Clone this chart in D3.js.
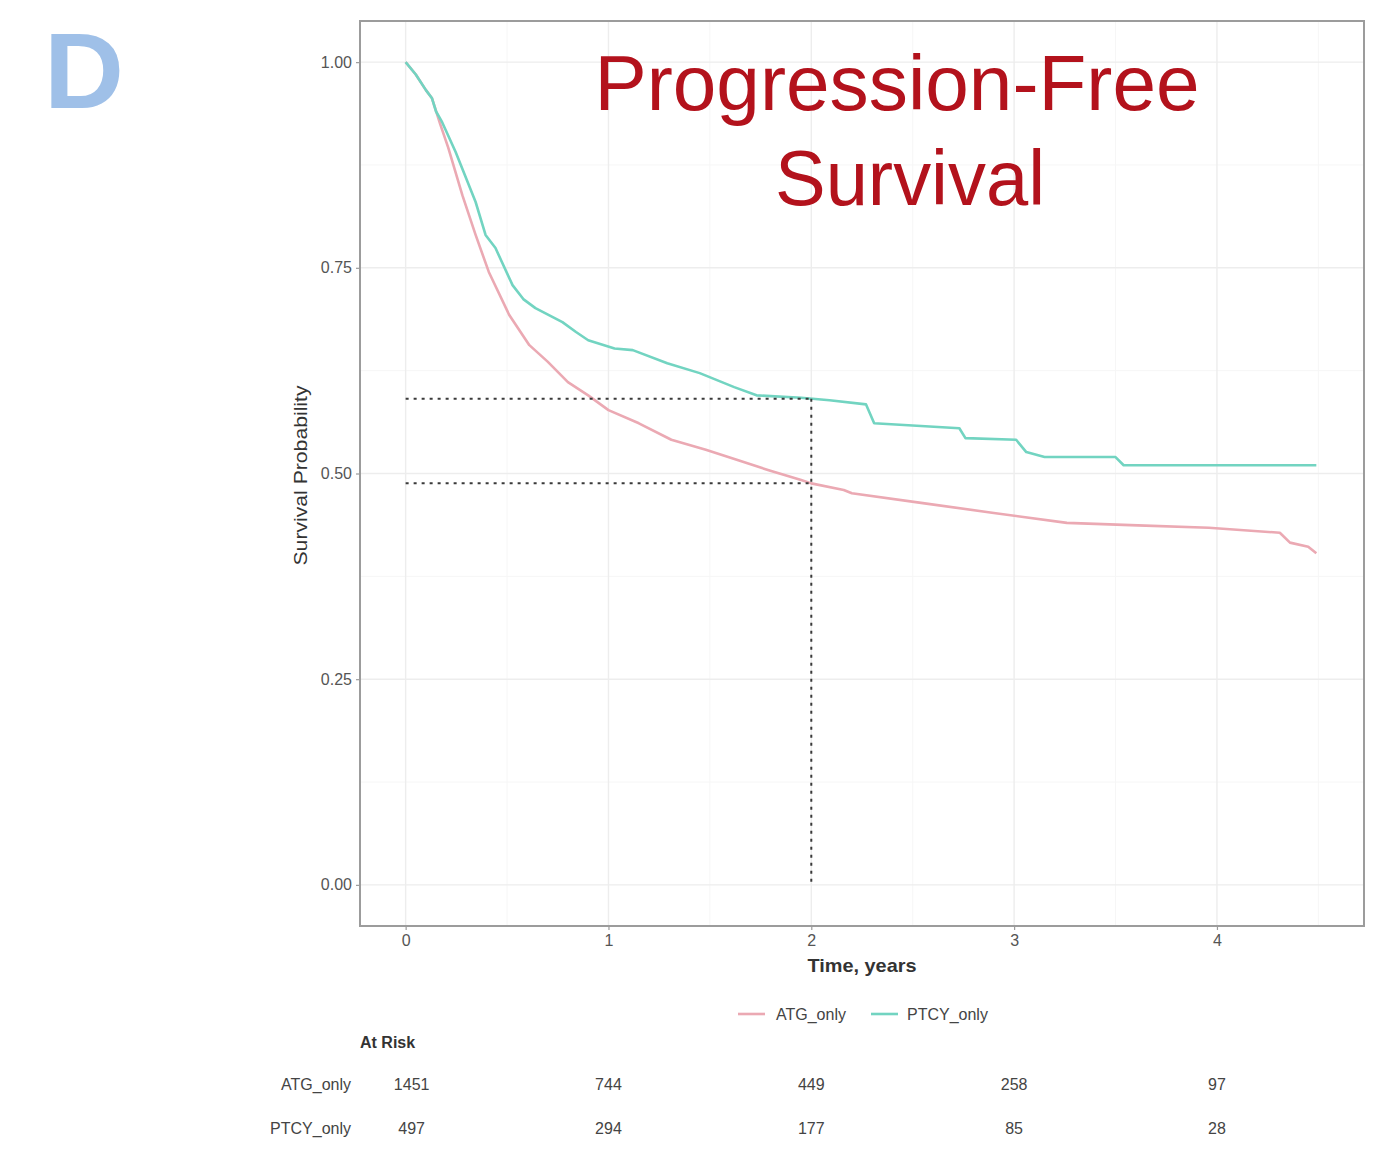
<!DOCTYPE html>
<html>
<head>
<meta charset="utf-8">
<script src="https://cdn.jsdelivr.net/npm/d3@7"></script>
<style>
  html, body { margin: 0; padding: 0; background: #fff; }
  svg { display: block; font-family: "Liberation Sans", Arial, sans-serif; }
</style>
</head>
<body>
<svg id="chart" width="1384" height="1168"></svg>
<script>
// Kaplan–Meier progression-free survival, two GVHD prophylaxis groups
const groups = ["ATG_only", "PTCY_only"];
const groupColors = ["#eba9b3", "#72d4c1"];

// ATG_only curve: time (years) and survival probability
const timeATG = [0, 0.05, 0.10, 0.13, 0.17, 0.21, 0.28, 0.345, 0.41, 0.51, 0.61, 0.70, 0.80, 0.90, 1.0,
  1.15, 1.31, 1.48, 1.64, 1.79, 1.95, 2.0, 2.16, 2.20, 2.55, 2.90, 3.26, 3.61, 3.96, 4.31, 4.36, 4.45, 4.49];
const survATG = [1.0, 0.985, 0.966, 0.956, 0.925, 0.896, 0.838, 0.79, 0.745, 0.693, 0.656, 0.636, 0.611, 0.595, 0.577,
  0.561, 0.541, 0.529, 0.516, 0.504, 0.492, 0.488, 0.480, 0.476, 0.464, 0.452, 0.440, 0.437, 0.434, 0.428, 0.416, 0.411, 0.403];

// PTCY_only curve
const timePTCY = [0, 0.05, 0.10, 0.13, 0.15, 0.18, 0.246, 0.345, 0.394, 0.443, 0.527, 0.58, 0.64, 0.773, 0.84, 0.90,
  1.03, 1.12, 1.29, 1.45, 1.62, 1.73, 1.95, 2.09, 2.27, 2.31, 2.73, 2.76, 3.01, 3.06, 3.15, 3.50, 3.54, 4.49];
const survPTCY = [1.0, 0.985, 0.966, 0.956, 0.940, 0.927, 0.891, 0.830, 0.790, 0.774, 0.729, 0.712, 0.701, 0.684, 0.672, 0.662,
  0.652, 0.650, 0.634, 0.622, 0.605, 0.595, 0.592, 0.589, 0.584, 0.561, 0.555, 0.543, 0.541, 0.526, 0.520, 0.520, 0.510, 0.510];

// Landmark time for the reference lines
const landmarkTime = 2;

// Axes
const xTicks = [0, 1, 2, 3, 4];
const yTicks = [0, 0.25, 0.5, 0.75, 1.0];
const yTickLabels = ["0.00", "0.25", "0.50", "0.75", "1.00"];

// Numbers at risk
const riskTimes = [0, 1, 2, 3, 4];
const riskATG = [1451, 744, 449, 258, 97];
const riskPTCY = [497, 294, 177, 85, 28];

const titleLines = ["Progression-Free", "Survival"];
const panelLetter = "D";

const svg = d3.select("#chart");

const panel = { left: 360, top: 21, right: 1364, bottom: 926 };
const x = d3.scaleLinear().domain([-0.225, 4.725]).range([panel.left, panel.right]);
const y = d3.scaleLinear().domain([-0.05, 1.05]).range([panel.bottom, panel.top]);

// grid
const grid = svg.append("g");
const xMinor = xTicks.map(d => d + 0.5);
const yMinor = [0.125, 0.375, 0.625, 0.875];
grid.selectAll(".xmin").data(xMinor).join("line")
  .attr("x1", d => x(d)).attr("x2", d => x(d)).attr("y1", panel.top).attr("y2", panel.bottom)
  .attr("stroke", "#f6f6f6").attr("stroke-width", 1);
grid.selectAll(".ymin").data(yMinor).join("line")
  .attr("y1", d => y(d)).attr("y2", d => y(d)).attr("x1", panel.left).attr("x2", panel.right)
  .attr("stroke", "#f6f6f6").attr("stroke-width", 1);
grid.selectAll(".xmaj").data(xTicks).join("line")
  .attr("x1", d => x(d)).attr("x2", d => x(d)).attr("y1", panel.top).attr("y2", panel.bottom)
  .attr("stroke", "#ededed").attr("stroke-width", 1.4);
grid.selectAll(".ymaj").data(yTicks).join("line")
  .attr("y1", d => y(d)).attr("y2", d => y(d)).attr("x1", panel.left).attr("x2", panel.right)
  .attr("stroke", "#ededed").attr("stroke-width", 1.4);

// survival curves
const series = [
  { name: groups[0], t: timeATG, s: survATG, color: groupColors[0] },
  { name: groups[1], t: timePTCY, s: survPTCY, color: groupColors[1] }
];
const line = d3.line().x(d => x(d[0])).y(d => y(d[1])).curve(d3.curveLinear);
svg.append("g").selectAll("path").data(series).join("path")
  .attr("d", d => line(d.t.map((t, i) => [t, d.s[i]])))
  .attr("fill", "none").attr("stroke", d => d.color).attr("stroke-width", 2.6)
  .attr("stroke-linejoin", "round");

// survival at landmark
function survAt(sr, t) {
  const i = d3.bisectRight(sr.t, t) - 1;
  if (sr.t[i] === t || i === sr.t.length - 1) return sr.s[i];
  const f = (t - sr.t[i]) / (sr.t[i + 1] - sr.t[i]);
  return sr.s[i] + f * (sr.s[i + 1] - sr.s[i]);
}
const landmarkVals = series.map(sr => survAt(sr, landmarkTime));

// dotted reference lines
const ref = svg.append("g").attr("stroke", "#3a3a3a").attr("stroke-width", 2).attr("stroke-dasharray", "3,5");
ref.selectAll(".h").data(landmarkVals).join("line")
  .attr("x1", x(0)).attr("x2", x(landmarkTime)).attr("y1", d => y(d)).attr("y2", d => y(d));
ref.append("line")
  .attr("x1", x(landmarkTime)).attr("x2", x(landmarkTime))
  .attr("y1", y(d3.max(landmarkVals))).attr("y2", y(0));

// panel border
svg.append("rect")
  .attr("x", panel.left).attr("y", panel.top)
  .attr("width", panel.right - panel.left).attr("height", panel.bottom - panel.top)
  .attr("fill", "none").attr("stroke", "#9c9c9c").attr("stroke-width", 2);

// y axis
const yAxis = svg.append("g").attr("transform", `translate(${panel.left},0)`)
  .call(d3.axisLeft(y).tickValues(yTicks).tickFormat((d, i) => yTickLabels[i]).tickSize(4).tickPadding(4));
yAxis.select(".domain").remove();
yAxis.selectAll("line").attr("stroke", "#9c9c9c").attr("stroke-width", 1.2);
yAxis.selectAll("text").attr("font-size", 16).attr("fill", "#555")
  .attr("font-family", "Liberation Sans, Arial, sans-serif");

// x axis
const xAxis = svg.append("g").attr("transform", `translate(0,${panel.bottom})`)
  .call(d3.axisBottom(x).tickValues(xTicks).tickFormat(d3.format("d")).tickSize(4).tickPadding(5));
xAxis.select(".domain").remove();
xAxis.selectAll("line").attr("stroke", "#9c9c9c").attr("stroke-width", 1.2);
xAxis.selectAll("text").attr("font-size", 16).attr("fill", "#555")
  .attr("font-family", "Liberation Sans, Arial, sans-serif");

// axis titles
svg.append("text").attr("x", 862).attr("y", 972)
  .attr("text-anchor", "middle").attr("font-size", 19).attr("font-weight", "bold")
  .attr("fill", "#333").attr("textLength", 109).attr("lengthAdjust", "spacingAndGlyphs")
  .text("Time, years");
svg.append("text").attr("transform", `translate(307,${(panel.top + panel.bottom) / 2 + 2}) rotate(-90)`)
  .attr("text-anchor", "middle").attr("font-size", 18).attr("fill", "#333")
  .attr("textLength", 180).attr("lengthAdjust", "spacingAndGlyphs")
  .text("Survival Probability");

// legend
const legend = svg.append("g");
const legendItems = [
  { name: groups[0], color: groupColors[0], kx: 738, tx: 776 },
  { name: groups[1], color: groupColors[1], kx: 871, tx: 907 }
];
legend.selectAll("line").data(legendItems).join("line")
  .attr("x1", d => d.kx).attr("x2", d => d.kx + 27).attr("y1", 1014).attr("y2", 1014)
  .attr("stroke", d => d.color).attr("stroke-width", 2.6);
legend.selectAll("text").data(legendItems).join("text")
  .attr("x", d => d.tx).attr("y", 1020).attr("font-size", 16).attr("fill", "#444")
  .text(d => d.name);

// risk table
svg.append("text").attr("x", 360).attr("y", 1048).attr("font-size", 16).attr("font-weight", "bold")
  .attr("fill", "#333").text("At Risk");
const rows = [
  { name: groups[0], vals: riskATG, y: 1090 },
  { name: groups[1], vals: riskPTCY, y: 1134 }
];
const rowG = svg.append("g").selectAll("g").data(rows).join("g");
rowG.append("text").attr("x", 351).attr("y", d => d.y).attr("text-anchor", "end")
  .attr("font-size", 16).attr("fill", "#444").text(d => d.name);
rowG.selectAll(".n").data(d => d.vals.map((v, i) => ({ v, t: riskTimes[i], y: d.y }))).join("text")
  .attr("x", d => x(d.t) + (d.t === 0 ? 6 : 0)).attr("y", d => d.y)
  .attr("text-anchor", "middle").attr("font-size", 16).attr("fill", "#444")
  .text(d => d.v);

// title inside the panel
svg.append("text").attr("x", 897).attr("y", 110).attr("text-anchor", "middle")
  .attr("font-size", 78).attr("fill", "#b3121c").attr("textLength", 605)
  .attr("lengthAdjust", "spacingAndGlyphs").text(titleLines[0]);
svg.append("text").attr("x", 910).attr("y", 205).attr("text-anchor", "middle")
  .attr("font-size", 78).attr("fill", "#b3121c").attr("textLength", 270)
  .attr("lengthAdjust", "spacingAndGlyphs").text(titleLines[1]);

// panel letter
svg.append("text").attr("x", 44).attr("y", 108).attr("font-size", 108).attr("font-weight", "bold")
  .attr("fill", "#9fc0e8").attr("textLength", 80).attr("lengthAdjust", "spacingAndGlyphs")
  .text(panelLetter);
</script>
</body>
</html>
